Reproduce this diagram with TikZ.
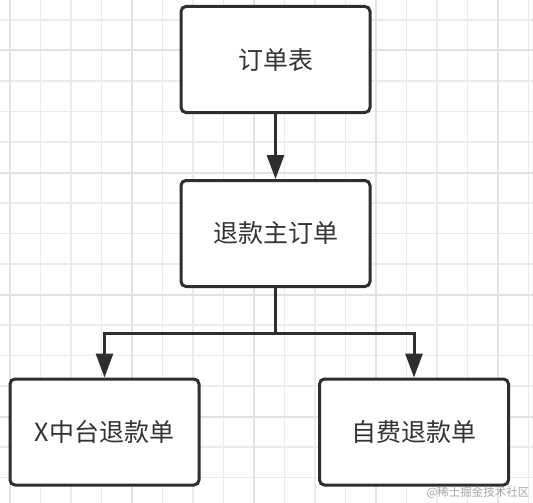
\documentclass[tikz,border=0pt]{standalone}
\usepackage{fontspec}
\newfontfamily\cjk{Noto Sans CJK SC}
\usetikzlibrary{arrows.meta}
\definecolor{ink}{HTML}{2E2E2E}
\definecolor{txt}{HTML}{333333}
\definecolor{gridminor}{HTML}{EBEBEB}
\definecolor{gridmajor}{HTML}{E2E2E2}
\tikzset{
  box/.style={draw=ink, line width=3pt, rounded corners=5pt, fill=white,
    minimum width=189pt, minimum height=106pt, inner sep=0pt,
    font=\cjk\fontsize{25}{30}\selectfont, text=txt},
  conn/.style={draw=ink, line width=3pt},
  arr/.style={conn, -{Triangle[length=24pt,width=17pt]}},
  wm/.style={font=\cjk\fontsize{11.5}{13}\selectfont, text=black!35}
}
\begin{document}
\begin{tikzpicture}[x=1pt,y=-1pt]
\useasboundingbox (0,0) rectangle (533,503);
\fill[white] (0,0) rectangle (533,503);
% grid
\foreach \i in {0,...,17} {
  \pgfmathsetmacro{\xx}{10+30.5*\i}
  \draw[gridminor, line width=1.5pt] (\xx,0) -- (\xx,503);
}
\foreach \i in {0,...,15} {
  \pgfmathsetmacro{\yy}{20+30.5*\i}
  \draw[gridminor, line width=1.5pt] (0,\yy) -- (533,\yy);
}
\foreach \i in {0,4,8,12,16} {
  \pgfmathsetmacro{\xx}{10+30.5*\i}
  \draw[gridmajor, line width=2pt] (\xx,0) -- (\xx,503);
}
\foreach \i in {1,5,9,13} {
  \pgfmathsetmacro{\yy}{20+30.5*\i}
  \draw[gridmajor, line width=2pt] (0,\yy) -- (533,\yy);
}
% boxes
\node[box] (top) at (275.5,59.5) {订单表};
\node[box] (mid) at (275.5,233.5) {退款主订单};
\node[box] (left) at (104.5,432) {X中台退款单};
\node[box] (right) at (414,432) {自费退款单};
\coordinate (j) at (275.5,333);
% connectors
\draw[arr] (top) -- (mid);
\draw[conn] (mid.south) -- (j);
\draw[arr] (j) -| (left.north);
\draw[arr] (j) -| (right.north);
% watermark
\node[wm] (w) at (478,493) {@稀土掘金技术社区};
\end{tikzpicture}
\end{document}
